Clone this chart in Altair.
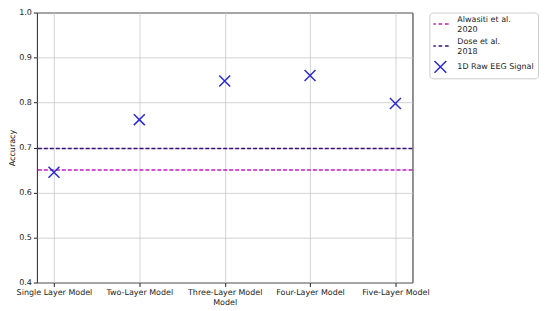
import altair as alt
import pandas as pd

models = ["Single Layer Model", "Two-Layer Model", "Three-Layer Model", "Four-Layer Model", "Five-Layer Model"]
accuracy = [0.645, 0.762, 0.848, 0.860, 0.798]

baseline_names = ["Alwasiti et al.\n2020", "Dose et al.\n2018"]
baseline_values = [0.650, 0.698]

point_series = "1D Raw EEG Signal"
series_order = baseline_names + [point_series]
series_colors = ["#c21bc2", "#3b0f7a", "#2a2ad8"]

dash_path = "M-1.4,0H-0.78M-0.31,0H0.31M0.78,0H1.4"
x_path = "M-1,-1L1,1M-1,1L1,-1"
shape_range = [dash_path, dash_path, x_path]

pts = pd.DataFrame({"model": models, "accuracy": accuracy, "series": [point_series] * len(models)})
base = pd.DataFrame({"series": baseline_names, "value": baseline_values})

FONT = "DejaVu Sans"

legend = alt.Legend(
    title=None, orient="none", legendX=394, legendY=0,
    labelExpr="split(datum.label, '\\n')",
    labelBaseline={"expr": "indexof(datum.label, '\\n') >= 0 ? 'bottom' : 'middle'"},
    labelFont=FONT, labelFontSize=8, labelColor="#222222", labelLimit=300,
    labelOffset=10, rowPadding=3, padding=4, clipHeight=15,
    strokeColor="#cccccc", cornerRadius=3, fillColor="white",
    symbolStrokeWidth=1.5, symbolFillColor="transparent", symbolSize=140,
)

color = alt.Color("series:N", scale=alt.Scale(domain=series_order, range=series_colors), legend=legend)
shape = alt.Shape("series:N", scale=alt.Scale(domain=series_order, range=shape_range), legend=legend)

y_scale = alt.Scale(domain=[0.4, 1.0], nice=False, zero=False)

rules = alt.Chart(base).mark_rule(strokeDash=[4, 2], strokeWidth=1.4).encode(
    y=alt.Y("value:Q", scale=y_scale),
    color=color,
)

points = alt.Chart(pts).mark_point(filled=False, strokeWidth=1.5, size=121, opacity=1).encode(
    x=alt.X("model:N", sort=models, scale=alt.Scale(type="point", padding=0.2),
            axis=alt.Axis(title="Model", labelAngle=0, labelFont=FONT, labelFontSize=8,
                          titleFont=FONT, titleFontSize=8, titleFontWeight="normal",
                          labelColor="#222222", titleColor="#222222",
                          tickSize=4, labelPadding=2, titlePadding=2,
                          grid=True, gridColor="#c8c8c8", domain=False, tickColor="#222222")),
    y=alt.Y("accuracy:Q", scale=y_scale,
            axis=alt.Axis(title="Accuracy", values=[0.4, 0.5, 0.6, 0.7, 0.8, 0.9, 1.0], format=".1f",
                          labelFont=FONT, labelFontSize=8, titleFont=FONT, titleFontSize=8,
                          titleFontWeight="normal", labelColor="#222222", titleColor="#222222",
                          tickSize=3.5, labelPadding=2, titlePadding=2,
                          grid=True, gridColor="#c8c8c8", domain=False, tickColor="#222222")),
    color=color,
    shape=shape,
)

chart = alt.layer(rules, points).properties(
    width=377, height=271,
    autosize=alt.AutoSizeParams(type="none"),
    padding={"left": 29, "top": 4, "right": 130, "bottom": 26},
).configure_view(stroke="#222222", strokeWidth=1).configure_axis(gridWidth=0.8)

chart.save("out.html", embed_options={"renderer": "svg", "actions": False})
